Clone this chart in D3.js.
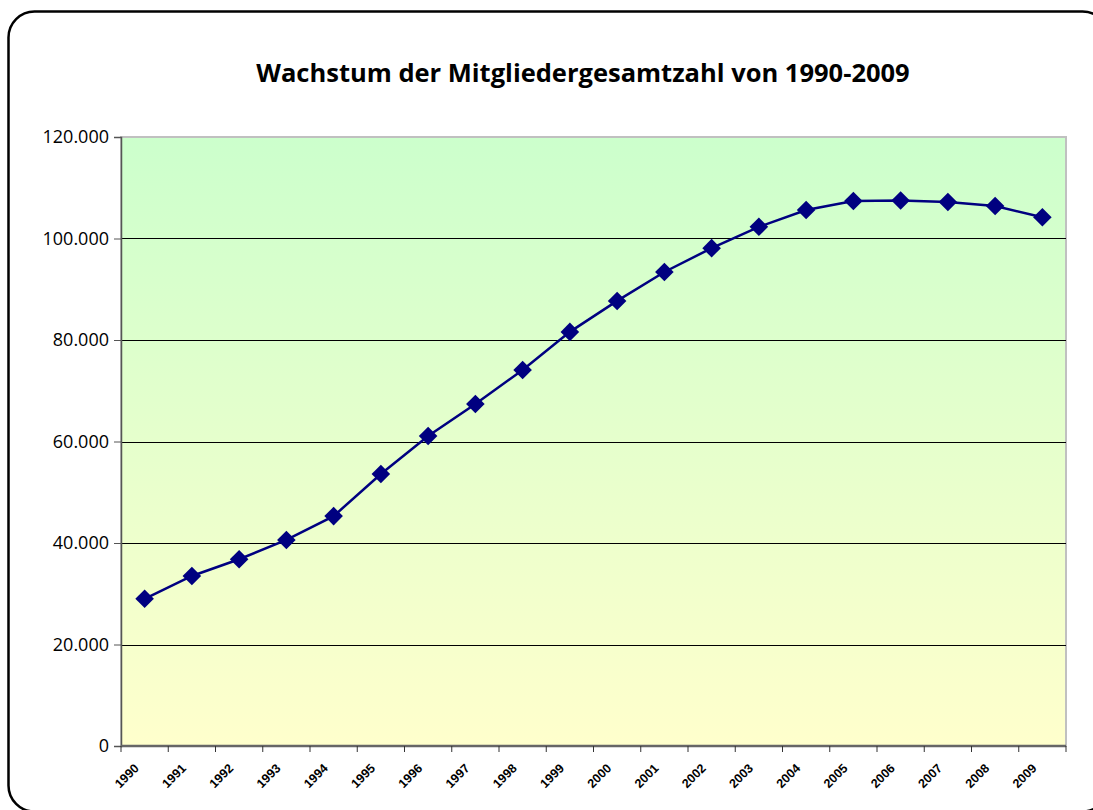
<!DOCTYPE html>
<html>
<head>
<meta charset="utf-8">
<script src="https://cdn.jsdelivr.net/npm/d3@7/dist/d3.min.js"></script>
<style>
  body { margin: 0; background: #fff; }
  svg { display: block; }
</style>
</head>
<body>
<div id="chart"></div>
<script>
// chart data
var years = ["1990", "1991", "1992", "1993", "1994", "1995", "1996", "1997", "1998", "1999",
             "2000", "2001", "2002", "2003", "2004", "2005", "2006", "2007", "2008", "2009"];
var members = [29000, 33500, 36800, 40600, 45300, 53600, 61100, 67400, 74100, 81600,
               87700, 93400, 98100, 102300, 105600, 107400, 107500, 107200, 106400, 104200];
var yTicks = [0, 20000, 40000, 60000, 80000, 100000, 120000];
var title = "Wachstum der Mitgliedergesamtzahl von 1990-2009";

var width = 1093, height = 810;
var margin = {top: 137, right: 27, bottom: 64, left: 121};
var innerW = width - margin.left - margin.right,
    innerH = height - margin.top - margin.bottom;

var svg = d3.select("#chart").append("svg")
    .attr("width", width)
    .attr("height", height);

// outer rounded frame
svg.append("rect")
    .attr("x", 8.5).attr("y", 11.5)
    .attr("width", 1100).attr("height", 800)
    .attr("rx", 26).attr("ry", 26)
    .attr("fill", "#fff")
    .attr("stroke", "#000")
    .attr("stroke-width", 2.5);

svg.append("text")
    .attr("x", 583).attr("y", 82)
    .attr("text-anchor", "middle")
    .attr("font-family", "'Open Sans', 'DejaVu Sans', sans-serif")
    .attr("font-weight", "bold")
    .attr("font-size", 25.5)
    .attr("fill", "#000")
    .text(title);

var defs = svg.append("defs");
var grad = defs.append("linearGradient")
    .attr("id", "bg").attr("x1", 0).attr("y1", 0).attr("x2", 0).attr("y2", 1);
grad.append("stop").attr("offset", "0%").attr("stop-color", "#ccffcc");
grad.append("stop").attr("offset", "100%").attr("stop-color", "#ffffcc");

var g = svg.append("g")
    .attr("transform", "translate(" + margin.left + "," + margin.top + ")");

var x = d3.scaleBand().domain(years).range([0, innerW]);
var y = d3.scaleLinear().domain([0, 120000]).range([innerH, 0]);

g.append("rect")
    .attr("width", innerW).attr("height", innerH)
    .attr("fill", "url(#bg)")
    .attr("stroke", "#c0c0c0")
    .attr("stroke-width", 2);

// gridlines
g.selectAll(".grid")
    .data(yTicks.filter(function (d) { return d > 0 && d < 120000; }))
    .enter()
    .append("line")
    .attr("class", "grid")
    .attr("x1", 0).attr("x2", innerW)
    .attr("y1", function (d) { return Math.round(y(d)) + 0.5; })
    .attr("y2", function (d) { return Math.round(y(d)) + 0.5; })
    .attr("stroke", "#000")
    .attr("stroke-width", 1);

// y axis
var yAxis = g.append("g")
    .call(d3.axisLeft(y).tickValues(yTicks).tickSize(7).tickPadding(5)
        .tickFormat(function (d) { return d3.format(",")(d).replace(/,/g, "."); }));
yAxis.select(".domain").attr("stroke", "#555").attr("stroke-width", 1.5);
yAxis.selectAll(".tick line").attr("stroke", "#555");
yAxis.selectAll("text")
    .attr("font-family", "'Open Sans', 'Liberation Sans', sans-serif")
    .attr("font-size", 18)
    .attr("fill", "#000");

// x axis, ticks on band edges
var xEdges = years.map(function (d) { return x(d); }).concat([innerW]);
var xAxis = g.append("g").attr("transform", "translate(0," + innerH + ")");
xAxis.append("line")
    .attr("x1", 0).attr("x2", innerW)
    .attr("stroke", "#666").attr("stroke-width", 2.5);
xAxis.selectAll(".tk")
    .data(xEdges)
    .enter()
    .append("line")
    .attr("class", "tk")
    .attr("x1", function (d) { return d; }).attr("x2", function (d) { return d; })
    .attr("y1", 0).attr("y2", 6)
    .attr("stroke", "#333").attr("stroke-width", 1);
xAxis.selectAll(".lbl")
    .data(years)
    .enter()
    .append("text")
    .attr("class", "lbl")
    .attr("transform", function (d) {
        return "translate(" + (x(d) + x.bandwidth() / 2 - 5) + ",23) rotate(-45)";
    })
    .attr("text-anchor", "end")
    .attr("font-family", "'Liberation Sans', Arial, sans-serif")
    .attr("font-weight", "bold")
    .attr("font-size", 12.5)
    .attr("fill", "#000")
    .text(function (d) { return d; });

// series line and markers
var line = d3.line()
    .x(function (d, i) { return x(years[i]) + x.bandwidth() / 2; })
    .y(function (d) { return y(d); });

g.append("path")
    .datum(members)
    .attr("d", line)
    .attr("fill", "none")
    .attr("stroke", "#000080")
    .attr("stroke-width", 2.5);

g.selectAll(".pt")
    .data(members)
    .enter()
    .append("path")
    .attr("class", "pt")
    .attr("d", d3.symbol().type(d3.symbolDiamond2).size(220))
    .attr("transform", function (d, i) {
        return "translate(" + (x(years[i]) + x.bandwidth() / 2) + "," + y(d) + ")";
    })
    .attr("fill", "#000080");
</script>
</body>
</html>
